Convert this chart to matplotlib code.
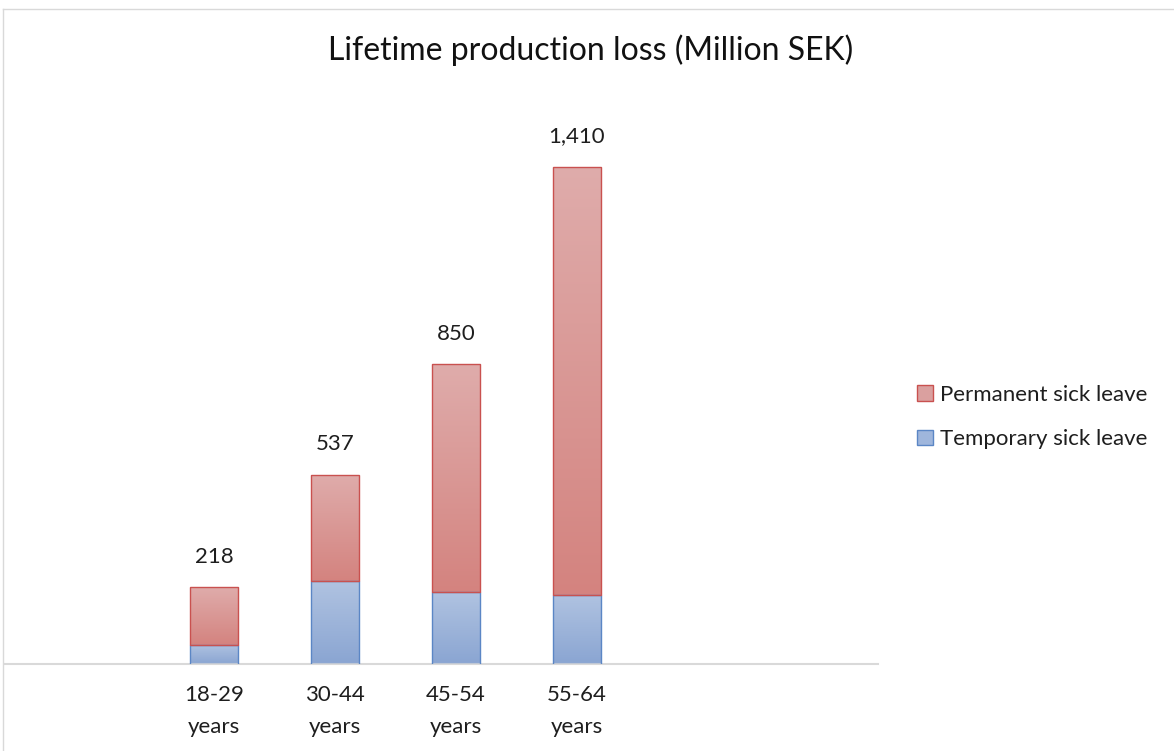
import matplotlib.pyplot as plt
import numpy as np
from matplotlib.colors import LinearSegmentedColormap
from matplotlib.patches import Patch
from matplotlib.lines import Line2D

plt.rcParams['font.family'] = ['Lato', 'DejaVu Sans']

categories = ['18-29\nyears', '30-44\nyears', '45-54\nyears', '55-64\nyears']
temporary = [54, 235, 204, 196]
totals = [218, 537, 850, 1410]
permanent = [t - p for t, p in zip(totals, temporary)]
total_labels = ['218', '537', '850', '1,410']

red_cmap = LinearSegmentedColormap.from_list('red', ['#dfacab', '#d4837f'])
blue_cmap = LinearSegmentedColormap.from_list('blue', ['#b0c3e1', '#8aa5d2'])

fig = plt.figure(figsize=(11.74, 7.51), dpi=100)
ax = fig.add_axes([5 / 1174, 1 - 664 / 751, (878 - 5) / 1174, (664 - 100) / 751])

x = np.arange(len(categories))
width = 0.4


def gradient_bars(bottoms, heights, cmap, edge):
    bars = ax.bar(x, heights, width, bottom=bottoms, facecolor='none',
                  edgecolor=edge, linewidth=1.0, zorder=3)
    grad = np.linspace(0, 1, 256).reshape(-1, 1)
    for b in bars:
        x0, y0 = b.get_x(), b.get_y()
        w, h = b.get_width(), b.get_height()
        im = ax.imshow(grad, cmap=cmap, aspect='auto', origin='upper',
                       extent=[x0, x0 + w, y0, y0 + h], zorder=2)
        im.set_clip_path(b)
    return bars


gradient_bars([0] * 4, temporary, blue_cmap, '#5b86c5')
gradient_bars(temporary, permanent, red_cmap, '#c9514f')

for xi, tot, lab in zip(x, totals, total_labels):
    ax.annotate(lab, (xi, tot), xytext=(0, 22), textcoords='offset points',
                ha='center', va='center', fontsize=16, color='#1e1e1e')

ax.set_xlim(-1.727, 5.49)
ax.set_ylim(0, 1600)
ax.set_xticks(x)
ax.set_xticklabels(categories, fontsize=16, color='#1e1e1e', linespacing=1.75)
ax.tick_params(axis='x', length=0, pad=15)
ax.set_yticks([])
for s in ['top', 'right', 'left']:
    ax.spines[s].set_visible(False)
ax.spines['bottom'].set_color('#d9d9d9')
ax.spines['bottom'].set_linewidth(1.5)

fig.text(591 / 1174, 1 - 50 / 751, 'Lifetime production loss (Million SEK)',
         ha='center', va='center', fontsize=23, color='#111111')

handles = [Patch(facecolor='#daa09f', edgecolor='#c9514f', label='Permanent sick leave'),
           Patch(facecolor='#9fb6dc', edgecolor='#5b86c5', label='Temporary sick leave')]
fig.legend(handles=handles, loc='center left', bbox_to_anchor=(897 / 1174, 1 - 417 / 751),
           frameon=False, fontsize=16, handlelength=0.7, handleheight=0.7,
           handletextpad=0.35, labelspacing=1.1, labelcolor='#1e1e1e')

# light frame of the original chart area
fig.add_artist(Line2D([3 / 1174, 1], [1 - 9 / 751] * 2, color='#d9d9d9', lw=1,
                      transform=fig.transFigure))
fig.add_artist(Line2D([3 / 1174] * 2, [0, 1 - 9 / 751], color='#d9d9d9', lw=1,
                      transform=fig.transFigure))

fig.savefig('out.png', dpi=100)
